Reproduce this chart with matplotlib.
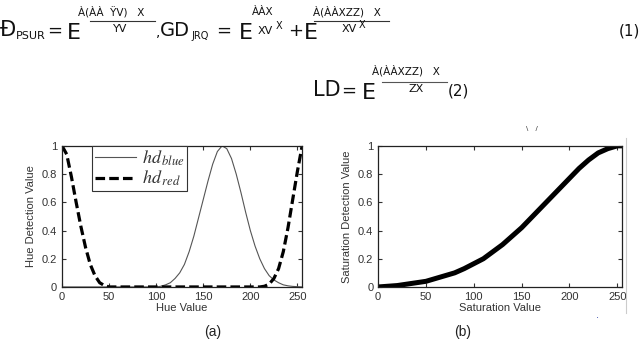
import matplotlib
matplotlib.use("Agg")
import matplotlib.pyplot as plt

plt.rcParams.update({
    "font.family": ["Liberation Sans", "DejaVu Sans"],
    "font.size": 8,
    "mathtext.fontset": "stix",
    "axes.edgecolor": "#222222",
    "axes.linewidth": 0.9,
    "xtick.direction": "in",
    "ytick.direction": "in",
    "xtick.top": True,
    "ytick.right": True,
    "xtick.major.size": 3,
    "ytick.major.size": 3,
    "xtick.color": "#333333",
    "ytick.color": "#333333",
})

# ── Data ─────────────────────────────────────────────────────────────────────
HUE_X = [0, 5, 10, 15, 20, 25, 30, 35, 40, 45, 50, 60, 80, 100, 105, 110, 115,
         120, 125, 130, 135, 140, 145, 150, 155, 160, 165, 170, 175, 180, 185,
         190, 195, 200, 205, 210, 215, 220, 225, 230, 235, 240, 245, 250, 255]
HD_BLUE = [0, 0, 0, 0, 0, 0, 0, 0, 0, 0, 0, 0, 0, 0.0, 0.005, 0.015, 0.03,
           0.06, 0.10, 0.16, 0.25, 0.36, 0.49, 0.62, 0.75, 0.87, 0.96, 1.0, 0.98,
           0.91, 0.80, 0.67, 0.53, 0.40, 0.29, 0.20, 0.13, 0.08, 0.05, 0.03,
           0.015, 0.008, 0.004, 0.002, 0.0]
HD_RED = [1.0, 0.94, 0.78, 0.60, 0.43, 0.28, 0.16, 0.08, 0.03, 0.01, 0.0, 0.0,
          0.0, 0.0, 0.0, 0.0, 0.0, 0.0, 0.0, 0.0, 0.0, 0.0, 0.0, 0.0, 0.0, 0.0,
          0.0, 0.0, 0.0, 0.0, 0.0, 0.0, 0.0, 0.0, 0.0, 0.0, 0.005, 0.02, 0.06,
          0.13, 0.25, 0.42, 0.62, 0.82, 1.0]

SAT_X = [0, 10, 20, 30, 40, 50, 60, 70, 80, 90, 100, 110, 120, 130, 140, 150,
         160, 170, 180, 190, 200, 210, 220, 230, 240, 250, 255]
SAT_D = [0.0, 0.005, 0.01, 0.02, 0.03, 0.04, 0.06, 0.08, 0.10, 0.13, 0.165,
         0.20, 0.25, 0.30, 0.36, 0.42, 0.49, 0.56, 0.63, 0.70, 0.77, 0.84, 0.90,
         0.95, 0.98, 1.0, 1.0]

XTICKS = [0, 50, 100, 150, 200, 250]
YTICKS = [0, 0.2, 0.4, 0.6, 0.8, 1]
YTICKLABELS = ["0", "0.2", "0.4", "0.6", "0.8", "1"]

fig = plt.figure(figsize=(6.42, 3.40), dpi=100)

# ── Equations (garbled glyphs as in the source) ──────────────────────────────
EQ = dict(family="DejaVu Sans", color="#111111", va="baseline")
fig.text(0.000, 0.895, "Đ", fontsize=15, **EQ)
fig.text(0.025, 0.885, "PSUR", fontsize=8, **EQ)
fig.text(0.073, 0.895, "=", fontsize=13, **EQ)
fig.text(0.104, 0.885, "E", fontsize=16, **EQ)
fig.text(0.122, 0.955, "À(ÀÀ  ŸV)   X", fontsize=7.5, **EQ)
fig.text(0.176, 0.905, "YV", fontsize=8, **EQ)
fig.text(0.243, 0.895, ",", fontsize=10, **EQ)
fig.text(0.249, 0.895, "GD", fontsize=14, **EQ)
fig.text(0.298, 0.885, "JRQ", fontsize=7, **EQ)
fig.text(0.337, 0.895, "=", fontsize=13, **EQ)
fig.text(0.372, 0.885, "E", fontsize=16, **EQ)
fig.text(0.392, 0.957, "ÀÀX", fontsize=7.5, **EQ)
fig.text(0.401, 0.900, "XV", fontsize=8, **EQ)
fig.text(0.429, 0.915, "X", fontsize=7, **EQ)
fig.text(0.449, 0.895, "+", fontsize=13, **EQ)
fig.text(0.474, 0.885, "E", fontsize=16, **EQ)
fig.text(0.488, 0.955, "À(ÀÀXZZ)   X", fontsize=7.5, **EQ)
fig.text(0.532, 0.905, "XV", fontsize=8, **EQ)
fig.text(0.559, 0.918, "X", fontsize=7, **EQ)
fig.text(0.964, 0.895, "(1)", fontsize=11, **EQ)
fig.add_artist(plt.Line2D([0.140, 0.242], [0.938, 0.938], color="#333333", lw=0.8))
fig.add_artist(plt.Line2D([0.489, 0.606], [0.938, 0.938], color="#333333", lw=0.8))

fig.text(0.487, 0.718, "LD", fontsize=15, **EQ)
fig.text(0.532, 0.718, "=", fontsize=13, **EQ)
fig.text(0.563, 0.708, "E", fontsize=16, **EQ)
fig.text(0.580, 0.782, "À(ÀÀXZZ)   X", fontsize=7.5, **EQ)
fig.text(0.636, 0.728, "ZX", fontsize=8, **EQ)
fig.text(0.697, 0.718, "(2)", fontsize=11, **EQ)
fig.add_artist(plt.Line2D([0.595, 0.697], [0.760, 0.760], color="#555555", lw=0.8))

# ── (a) Hue detection ────────────────────────────────────────────────────────
ax1 = fig.add_axes([0.0966, 0.156, 0.374, 0.415])
ax1.plot(HUE_X, HD_BLUE, color="#555555", lw=0.8, label=r"$hd_{\,blue}$")
ax1.plot(HUE_X, HD_RED, color="black", lw=2.3, dashes=(3, 1.3),
         label=r"$hd_{\,red}$")
ax1.set_xlim(0, 255)
ax1.set_ylim(0, 1)
ax1.set_xticks(XTICKS)
ax1.set_yticks(YTICKS)
ax1.set_yticklabels(YTICKLABELS)
ax1.set_xlabel("Hue Value", color="#333333", labelpad=1)
ax1.set_ylabel("Hue Detection Value", color="#333333", labelpad=4)
leg = ax1.legend(loc="upper left", bbox_to_anchor=(0.125, 1.0), borderaxespad=0,
                 fancybox=False, framealpha=1, edgecolor="#333333",
                 fontsize=13, handlelength=2.3, handletextpad=0.3,
                 borderpad=0.15, labelspacing=0.05)
leg.get_frame().set_linewidth(0.8)
for t in leg.get_texts():
    t.set_color("#333333")
fig.text(0.332, 0.012, "(a)", fontsize=10, color="#222222", ha="center")

# ── (b) Saturation detection ─────────────────────────────────────────────────
ax2 = fig.add_axes([0.589, 0.156, 0.380, 0.415])
ax2.plot(SAT_X, SAT_D, color="black", lw=3.6, solid_capstyle="butt")
ax2.set_xlim(0, 255)
ax2.set_ylim(0, 1)
ax2.set_xticks(XTICKS)
ax2.set_yticks(YTICKS)
ax2.set_yticklabels(YTICKLABELS)
ax2.set_xlabel("Saturation Value", color="#333333", labelpad=1)
ax2.set_ylabel("Saturation Detection Value", color="#333333", labelpad=4)
fig.text(0.721, 0.012, "(b)", fontsize=10, color="#222222", ha="center")

# stray scan marks
fig.text(0.828, 0.615, "\\   /", fontsize=6, color="#444444", ha="center")
fig.text(0.930, 0.065, ".", fontsize=8, color="#3344aa", ha="center")
fig.add_artist(plt.Line2D([0.975, 0.975], [0.08, 0.595], color="#cccccc", lw=0.8))

fig.savefig("out.png", dpi=100)
